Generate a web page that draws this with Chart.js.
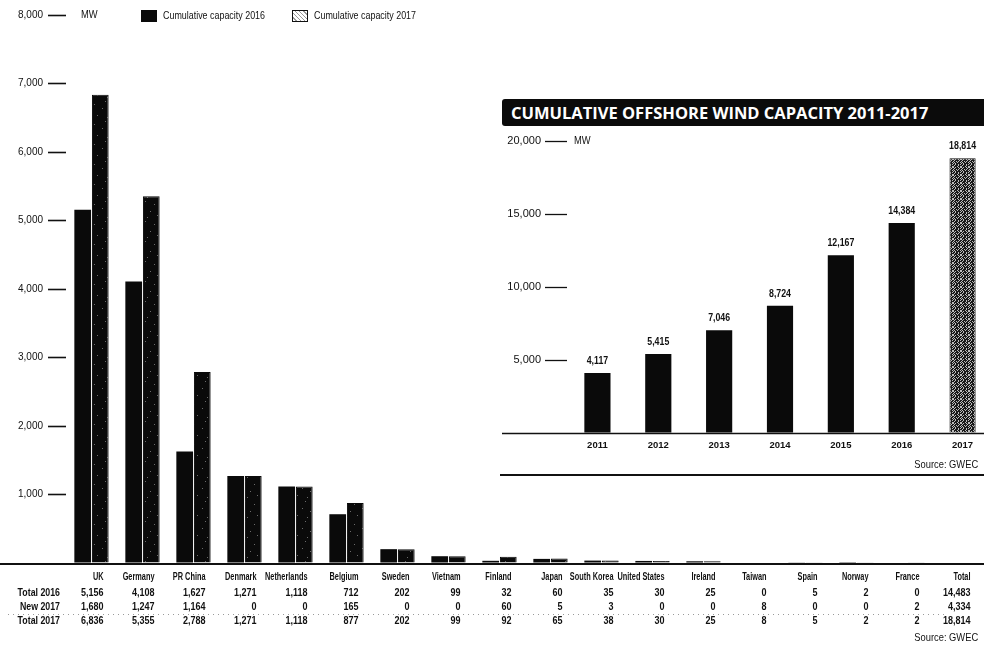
<!DOCTYPE html>
<html>
<head>
<meta charset="utf-8">
<script src="https://cdn.jsdelivr.net/npm/chart.js@4.4.1/dist/chart.umd.min.js"></script>
<style>
html,body{margin:0;padding:0;background:#fff;width:984px;height:662px;overflow:hidden;}
body{position:relative;font-family:'Liberation Sans',Arial,sans-serif;color:#111;}
#main{position:absolute;left:0;top:0;}
.leg{position:absolute;top:9px;font-size:11px;line-height:13px;display:flex;align-items:center;white-space:nowrap;}
.leg .t{display:inline-block;transform:scaleX(0.81);transform-origin:left center;}
.sw{display:inline-block;width:16px;height:12px;margin-right:6px;box-sizing:border-box;}
#sw16{background:#0a0a0a;}
#sw17{border:1.5px solid #111;background:repeating-linear-gradient(45deg,#fff 0 2px,#999 2px 3px);}
#inset{position:absolute;left:497px;top:99px;width:487px;height:381px;background:#fff;overflow:hidden;}
#ititle{position:absolute;left:5px;top:0px;width:482px;height:27px;background:#0b0b0b;color:#fff;font-family:'Open Sans',sans-serif;font-weight:700;font-size:16.5px;line-height:27px;padding-left:9px;box-sizing:border-box;border-radius:3px 0 0 3px;white-space:nowrap;}
#ichart{position:absolute;left:0;top:28px;}
.src{position:absolute;font-size:11px;white-space:nowrap;transform:scaleX(0.85);transform-origin:right center;}
#isrc{right:6px;top:359px;}
#irule{position:absolute;left:3px;right:0;top:375px;height:2px;background:#111;}
#msrc{right:6px;top:631px;}
</style>
</head>
<body>
<canvas id="main" width="984" height="662"></canvas>
<div class="leg" style="left:141px;"><span class="sw" id="sw16"></span><span class="t" id="lab16"></span></div>
<div class="leg" style="left:292px;"><span class="sw" id="sw17"></span><span class="t" id="lab17"></span></div>
<div class="src" id="msrc">Source: GWEC</div>
<div id="inset">
  <div id="ititle"></div>
  <canvas id="ichart" width="496" height="353"></canvas>
  <div class="src" id="isrc">Source: GWEC</div>
  <div id="irule"></div>
</div>
<script>
// ---------------- data ----------------
const countries = ['UK','Germany','PR China','Denmark','Netherlands','Belgium','Sweden','Vietnam','Finland','Japan','South Korea','United States','Ireland','Taiwan','Spain','Norway','France'];
const total2016 = [5156,4108,1627,1271,1118,712,202,99,32,60,35,30,25,0,5,2,0];
const new2017   = [1680,1247,1164,0,0,165,0,0,60,5,3,0,0,8,0,0,2];
const total2017 = [6836,5355,2788,1271,1118,877,202,99,92,65,38,30,25,8,5,2,2];
const totalColumnLabel = 'Total';
const grandTotals = [14483,4334,18814]; // Total 2016, New 2017, Total 2017
const rowHeaders = ['Total 2016','New 2017','Total 2017'];
const seriesNames = ['Cumulative capacity 2016','Cumulative capacity 2017'];
const unitLabel = 'MW';
const mainYMax = 8000, mainYStep = 1000;

const insetTitle = 'CUMULATIVE OFFSHORE WIND CAPACITY 2011-2017';
const years = ['2011','2012','2013','2014','2015','2016','2017'];
const cumulative = [4117,5415,7046,8724,12167,14384,18814];
const insetYMax = 20000, insetYStep = 5000;

// ---------------- helpers ----------------
const FAM = "'Liberation Sans',Arial,sans-serif";
const INK = '#0a0a0a';
const fmt = v => Number(v).toLocaleString('en-US');

function narrowText(ctx, text, x, y, align, font, sx){
  ctx.save();
  ctx.font = font; ctx.textAlign = align; ctx.textBaseline = 'middle';
  ctx.translate(x, y); ctx.scale(sx, 1);
  ctx.fillText(text, 0, 0);
  ctx.restore();
}

function makePattern(bg, fg, rows){
  const c = document.createElement('canvas');
  c.width = rows[0].length; c.height = rows.length;
  const x = c.getContext('2d');
  x.fillStyle = bg; x.fillRect(0,0,c.width,c.height);
  x.fillStyle = fg;
  rows.forEach((r,j)=>{ for(let i=0;i<r.length;i++) if(r[i]==='#') x.fillRect(i,j,1,1); });
  return x.createPattern(c,'repeat');
}
const darkSpeckle = makePattern('#0a0a0a','#6a6a6a',[
  '....................',
  '.....#..............',
  '....................',
  '....................',
  '..............#.....',
  '....................',
  '....................',
  '....................',
  '..#.................',
  '....................',
  '....................',
  '..........#.........',
  '....................',
  '....................',
  '....................',
  '.................#..',
  '....................',
  '.......#............',
  '....................',
  '....................'
]);
const greyTexture = makePattern('#1a1a1a','#bdbdbd',[
  '#.#..#.#',
  '.#....#.',
  '#..#.#..',
  '.#..#..#',
  '#.#.....',
  '..#..#.#',
  '.#...#..',
  '#...#..#'
]);

document.getElementById('lab16').textContent = seriesNames[0];
document.getElementById('lab17').textContent = seriesNames[1];
document.getElementById('ititle').textContent = insetTitle;

const noZeroTick = ctx => (ctx.tick && ctx.tick.value === 0) ? 'rgba(0,0,0,0)' : '#111';

// ---------------- main chart ----------------
const mainDecor = {
  id:'mainDecor',
  beforeDatasetsDraw(chart){
    const {ctx, chartArea, scales:{y}} = chart;
    const y0 = y.getPixelForValue(0);
    ctx.save();
    ctx.strokeStyle = '#111'; ctx.lineWidth = 2;
    ctx.beginPath(); ctx.moveTo(0, y0+1); ctx.lineTo(chartArea.right, y0+1); ctx.stroke();
    ctx.restore();
  },
  afterDraw(chart){
    const {ctx, chartArea, scales:{x,y}} = chart;
    const y0 = y.getPixelForValue(0);
    ctx.save();
    ctx.fillStyle = '#111';
    narrowText(ctx, unitLabel, chartArea.left + 15, y.getPixelForValue(mainYMax), 'left', '11px ' + FAM, 0.85);
    // table
    const rowY = [y0+14, y0+30, y0+44, y0+58];
    const labels = chart.data.labels;
    const cols = countries.map((c,i)=>[total2016[i], new2017[i], total2017[i]]);
    cols.push(grandTotals);
    labels.forEach((lab,i)=>{
      const xr = x.getPixelForValue(i) + 12;
      narrowText(ctx, lab, xr, rowY[0], 'right', 'bold 10.5px ' + FAM, 0.7);
      cols[i].forEach((v,k)=> narrowText(ctx, fmt(v), xr, rowY[k+1], 'right', 'bold 11px ' + FAM, 0.82));
    });
    rowHeaders.forEach((h,k)=> narrowText(ctx, h, 60, rowY[k+1], 'right', 'bold 11px ' + FAM, 0.8));
    // faint dotted separator
    ctx.strokeStyle = '#9a9a9a'; ctx.lineWidth = 1; ctx.setLineDash([1,4]);
    ctx.beginPath(); ctx.moveTo(8, y0+51.5); ctx.lineTo(chartArea.right-40, y0+51.5); ctx.stroke();
    ctx.restore();
  }
};

new Chart(document.getElementById('main').getContext('2d'), {
  type:'bar',
  data:{
    labels:[...countries, totalColumnLabel],
    datasets:[
      {label:seriesNames[0], data:[...total2016, null], backgroundColor:INK, borderWidth:0,
       categoryPercentage:0.69, barPercentage:0.95},
      {label:seriesNames[1], data:[...total2017, null], backgroundColor:darkSpeckle, borderColor:INK, borderWidth:1,
       categoryPercentage:0.69, barPercentage:0.95}
    ]
  },
  options:{
    responsive:false, animation:false, devicePixelRatio:1,
    layout:{padding:{top:15, bottom:99, left:0, right:0}},
    plugins:{legend:{display:false}, tooltip:{enabled:false}},
    scales:{
      x:{offset:true, grid:{display:false, drawTicks:false}, border:{display:false}, ticks:{display:false},
         afterFit:s=>{s.height=0;}},
      y:{min:0, max:mainYMax,
         ticks:{stepSize:mainYStep, color:'#111', padding:5, font:{family:FAM, size:10},
                callback:v=> v===0 ? '' : fmt(v)},
         grid:{drawOnChartArea:false, drawTicks:true, tickLength:18, tickWidth:1.6, tickColor:noZeroTick},
         border:{display:false},
         afterFit:s=>{s.width=66;}}
    }
  },
  plugins:[mainDecor]
});

// ---------------- inset chart ----------------
const insetDecor = {
  id:'insetDecor',
  beforeDatasetsDraw(chart){
    const {ctx, chartArea, scales:{y}} = chart;
    const y0 = y.getPixelForValue(0);
    ctx.save();
    ctx.strokeStyle = '#111'; ctx.lineWidth = 1.6;
    ctx.beginPath(); ctx.moveTo(5, y0+0.5); ctx.lineTo(chartArea.right, y0+0.5); ctx.stroke();
    ctx.restore();
  },
  afterDatasetsDraw(chart){
    const {ctx, chartArea, scales:{y}} = chart;
    const meta = chart.getDatasetMeta(0);
    ctx.save();
    ctx.fillStyle = '#111';
    meta.data.forEach((bar,i)=> narrowText(ctx, fmt(cumulative[i]), bar.x, bar.y - 12, 'center', 'bold 11px ' + FAM, 0.8));
    narrowText(ctx, unitLabel, chartArea.left + 7, y.getPixelForValue(insetYMax), 'left', '11px ' + FAM, 0.85);
    ctx.restore();
  }
};

const lastIdx = years.length - 1;
new Chart(document.getElementById('ichart').getContext('2d'), {
  type:'bar',
  data:{
    labels:years,
    datasets:[{
      data:cumulative,
      backgroundColor:cumulative.map((v,i)=> i===lastIdx ? greyTexture : INK),
      borderColor:INK,
      borderWidth:cumulative.map((v,i)=> i===lastIdx ? 1 : 0),
      categoryPercentage:0.43, barPercentage:1
    }]
  },
  options:{
    responsive:false, animation:false, devicePixelRatio:1,
    layout:{padding:{top:14, bottom:0, left:0, right:0}},
    plugins:{legend:{display:false}, tooltip:{enabled:false}},
    scales:{
      x:{grid:{display:false, drawTicks:false}, border:{display:false},
         ticks:{color:'#111', padding:7, maxRotation:0, font:{family:FAM, size:9.5, weight:'bold'}},
         afterFit:s=>{s.height=47;}},
      y:{min:0, max:insetYMax,
         ticks:{stepSize:insetYStep, color:'#111', padding:4, font:{family:FAM, size:11},
                callback:v=> v===0 ? '' : fmt(v)},
         grid:{drawOnChartArea:false, drawTicks:true, tickLength:22, tickWidth:1.3, tickColor:noZeroTick},
         border:{display:false},
         afterFit:s=>{s.width=70;}}
    }
  },
  plugins:[insetDecor]
});
</script>
</body>
</html>
